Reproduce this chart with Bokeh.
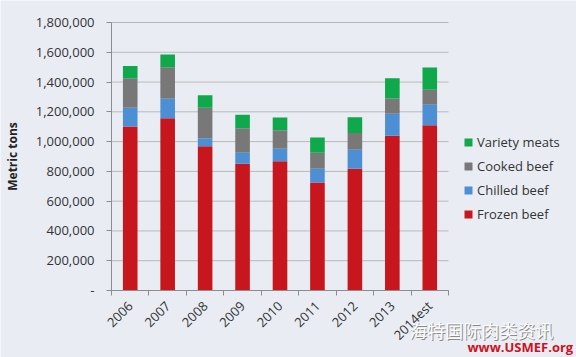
from bokeh.plotting import figure
from bokeh.models import FixedTicker, Legend, LegendItem, Label, CustomJSTickFormatter, Range1d, ColumnDataSource
from bokeh.embed import file_html
from bokeh.resources import INLINE

years = ["2006", "2007", "2008", "2009", "2010", "2011", "2012", "2013", "2014est"]
frozen = [1101000, 1157000, 969000, 851000, 868000, 725000, 817000, 1039000, 1110000]
chilled = [126000, 131000, 54000, 74000, 84000, 92000, 128000, 148000, 137000]
cooked = [199000, 212000, 204000, 165000, 125000, 108000, 112000, 103000, 101000]
variety = [81000, 85000, 85000, 90000, 85000, 103000, 107000, 136000, 150000]
series = ["Frozen beef", "Chilled beef", "Cooked beef", "Variety meats"]
colors = ["#c8161e", "#4d8fd5", "#787878", "#0fa84b"]
y_ticks = [0, 200000, 400000, 600000, 800000, 1000000, 1200000, 1400000, 1600000, 1800000]
watermark = "海特国际肉类资讯"
source_url = "www.USMEF.org"

n = len(years)
xs = [i + 0.5 for i in range(n)]
src = ColumnDataSource(dict(x=xs, f=frozen, c=chilled, k=cooked, v=variety))

bg = "#e9edf3"
p = figure(frame_width=576, frame_height=357, output_backend="svg", toolbar_location=None,
           x_range=Range1d(-2.9644, 12.418), y_range=Range1d(-450000, 1947761),
           min_border=0, background_fill_color=bg, border_fill_color=bg, outline_line_color=None)

p.xgrid.grid_line_color = None
p.ygrid.grid_line_color = None
p.segment(x0=0, x1=n, y0=y_ticks, y1=y_ticks, line_color="#b8b8b8", line_width=1)

rs = p.vbar_stack(["f", "c", "k", "v"], x="x", width=0.39, color=colors, line_color=None, source=src)

legend = Legend(items=[LegendItem(label=series[i], renderers=[rs[i]]) for i in [3, 2, 1, 0]],
                location=(463, 134), background_fill_alpha=0, border_line_color=None,
                label_text_font="Open Sans", label_text_font_size="13px", label_text_color="#333333",
                glyph_width=10, glyph_height=10, spacing=6, label_standoff=4, label_height=17,
                padding=0, margin=0)
p.add_layout(legend, "center")

p.xaxis.fixed_location = 0
p.xaxis.bounds = (0, n)
p.xaxis.ticker = FixedTicker(ticks=xs, minor_ticks=list(range(n + 1)))
p.xaxis.major_label_overrides = {x: y for x, y in zip(xs, years)}
p.xaxis.major_label_orientation = 0.785
p.xaxis.major_tick_out = 0
p.xaxis.major_tick_in = 0
p.xaxis.minor_tick_out = 5
p.xaxis.minor_tick_in = 0
p.xaxis.minor_tick_line_color = "#8c8c8c"
p.xaxis.axis_line_color = "#8c8c8c"
p.xaxis.major_label_text_font = "Open Sans"
p.xaxis.major_label_text_font_size = "13px"
p.xaxis.major_label_text_color = "#333333"
p.xaxis.major_label_standoff = 8

p.yaxis.fixed_location = 0
p.yaxis.bounds = (0, 1800000)
p.yaxis.ticker = FixedTicker(ticks=y_ticks)
p.yaxis.formatter = CustomJSTickFormatter(code="return tick == 0 ? '-' : tick.toLocaleString('en-US');")
p.yaxis.major_tick_out = 5
p.yaxis.major_tick_in = 0
p.yaxis.minor_tick_line_color = None
p.yaxis.major_tick_line_color = "#8c8c8c"
p.yaxis.axis_line_color = "#8c8c8c"
p.yaxis.major_label_text_font = "Open Sans"
p.yaxis.major_label_text_font_size = "13px"
p.yaxis.major_label_text_color = "#333333"
p.yaxis.major_label_standoff = 12
p.yaxis.axis_label = "Metric tons"
p.yaxis.axis_label_text_font = "Open Sans"
p.yaxis.axis_label_text_font_style = "bold"
p.yaxis.axis_label_text_font_size = "12px"
p.yaxis.axis_label_text_color = "#222222"
p.yaxis.axis_label_standoff = 12

for dx, dy, col in [(1, -1, "#8a8a8a"), (0, 0, "#fbfbfb")]:
    p.add_layout(Label(x=7.95, y=-262000, x_offset=dx, y_offset=dy, text=watermark,
                       text_font="Noto Sans CJK SC", text_font_size="18px", text_color=col,
                       text_baseline="middle", text_align="left"))
p.add_layout(Label(x=12.33, y=-441000, text=source_url, text_font="Open Sans",
                   text_font_size="13px", text_font_style="bold", text_color="#d01020",
                   text_baseline="bottom", text_align="right"))

open("out.html", "w").write(file_html(p, INLINE))
